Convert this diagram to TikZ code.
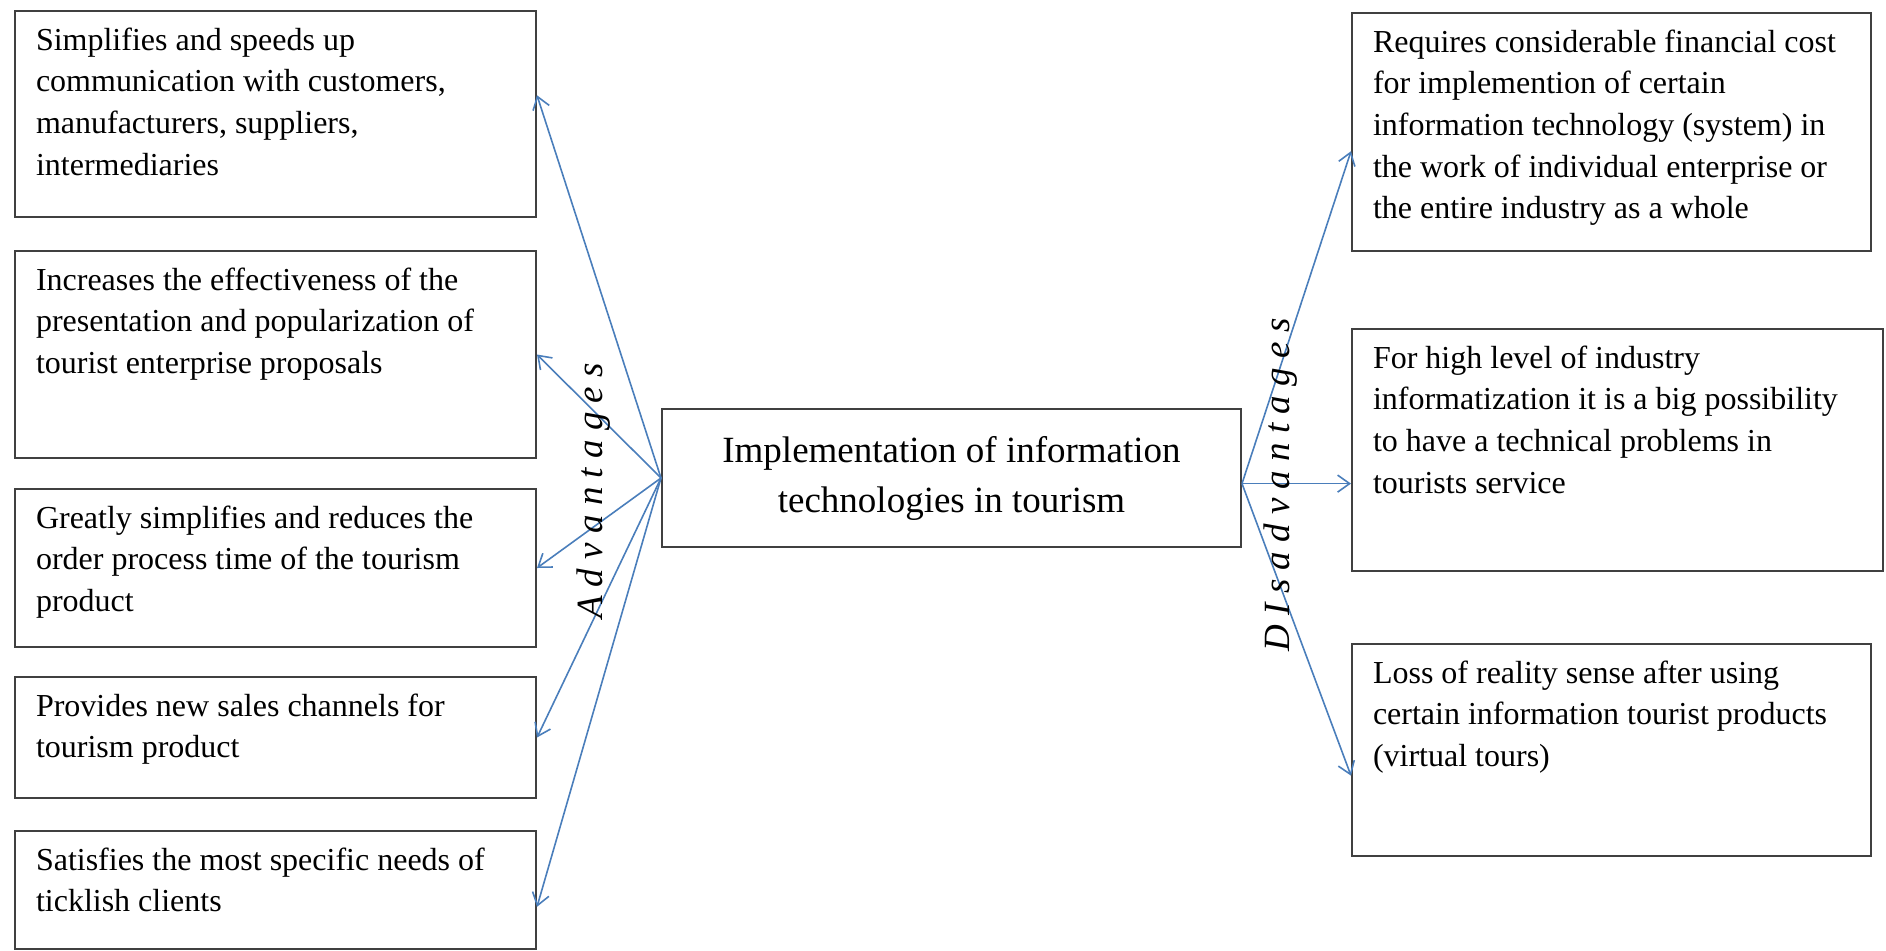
\documentclass[tikz,border=0pt]{standalone}
\usepackage{fontspec}
\setmainfont{Liberation Serif}
\usetikzlibrary{arrows.meta,calc}
\definecolor{arrowblue}{HTML}{4A7EBB}
\definecolor{boxgray}{HTML}{404040}
\newcommand{\boxtxt}[3]{\parbox[c][#2][t]{#1}{\fontsize{16pt}{20.85pt}\selectfont\raggedright\rule{0pt}{19.5pt}#3}}
\tikzset{
  tbox/.style={draw=boxgray, line width=1pt, inner sep=0pt, anchor=north west, fill=white},
  cbox/.style={draw=boxgray, line width=1pt, inner sep=0pt, anchor=north west, fill=white,
    align=center, font=\fontsize{18.5pt}{25pt}\selectfont},
  arr/.style={draw=arrowblue, line width=0.8pt, -{Straight Barb[length=6pt,width=8.5pt]}},
  lbl/.style={font=\fontsize{18.5pt}{22pt}\selectfont\itshape, inner sep=0pt, rotate=90}
}
\begin{document}
\begin{tikzpicture}[x=0.5pt,y=-0.5pt]
\useasboundingbox (0,0) rectangle (1886,950);
% left boxes
\node[tbox, minimum width=260.5pt, minimum height=103pt] (L1) at (14,10)
  {\boxtxt{239.5pt}{103pt}{Simplifies and speeds up\\communication with customers,\\manufacturers, suppliers,\\intermediaries}};
\node[tbox, minimum width=260.5pt, minimum height=103.5pt] (L2) at (14,250)
  {\boxtxt{239.5pt}{103.5pt}{Increases the effectiveness of the\\presentation and popularization of\\tourist enterprise proposals}};
\node[tbox, minimum width=260.5pt, minimum height=79pt] (L3) at (14,488)
  {\boxtxt{239.5pt}{79pt}{Greatly simplifies and reduces the\\order process time of the tourism\\product}};
\node[tbox, minimum width=260.5pt, minimum height=60.5pt] (L4) at (14,676)
  {\boxtxt{239.5pt}{60.5pt}{Provides new sales channels for\\tourism product}};
\node[tbox, minimum width=260.5pt, minimum height=59pt] (L5) at (14,830)
  {\boxtxt{239.5pt}{59pt}{Satisfies the most specific needs of\\ticklish clients}};
% centre box
\node[cbox, minimum width=289.5pt, minimum height=69pt] (C) at (661,408)
  {Implementation of information\\technologies in tourism};
% right boxes
\node[tbox, minimum width=259.5pt, minimum height=119pt] (R1) at (1351,12)
  {\boxtxt{238.5pt}{119pt}{Requires considerable financial cost\\for implemention of certain\\information technology (system) in\\the work of individual enterprise or\\the entire industry as a whole}};
\node[tbox, minimum width=265.5pt, minimum height=121pt] (R2) at (1351,328)
  {\boxtxt{244.5pt}{121pt}{For high level of industry\\informatization it is a big possibility\\to have a technical problems in\\tourists service}};
\node[tbox, minimum width=259.5pt, minimum height=106pt] (R3) at (1351,643)
  {\boxtxt{238.5pt}{106pt}{Loss of reality sense after using\\certain information tourist products\\(virtual tours)}};
% origins
\coordinate (cl) at (C.west);
\coordinate (cr) at ($(C.north east)!0.54!(C.south east)$);
% left arrows
\draw[arr] (cl) -- ($(L1.north east)!0.41!(L1.south east)$);
\draw[arr] (cl) -- (L2.east);
\draw[arr] (cl) -- (L3.east);
\draw[arr] (cl) -- (L4.east);
\draw[arr] (cl) -- ($(L5.north east)!0.64!(L5.south east)$);
% right arrows
\draw[arr] (cr) -- ($(R1.north west)!0.58!(R1.south west)$);
\draw[arr] (cr) -- (cr -| R2.west);
\draw[arr] (cr) -- ($(R3.north west)!0.62!(R3.south west)$);
% labels
\node[lbl] (adv) at (594,491) {A d v a n t a g e s};
\node[lbl] (dis) at (1281,485) {D I s a d v a n t a g e s};
\end{tikzpicture}
\end{document}
